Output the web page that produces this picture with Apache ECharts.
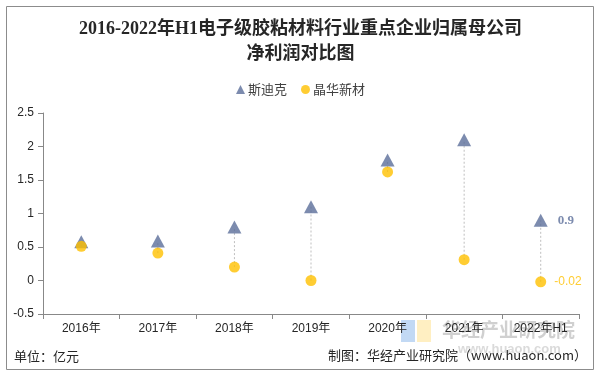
<!DOCTYPE html>
<html>
<head>
<meta charset="utf-8">
<script src="https://cdn.jsdelivr.net/npm/echarts@6/dist/echarts.min.js"></script>
<style>
html,body{margin:0;padding:0;background:#fff;}
#main{width:601px;height:376px;}
</style>
</head>
<body>
<div id="main"></div>
<script>
// 年份
var years = ['2016年', '2017年', '2018年', '2019年', '2020年', '2021年', '2022年H1'];
// 斯迪克 归母净利润(亿元)
var sidike = [0.58, 0.59, 0.8, 1.1, 1.8, 2.1, 0.9];
// 晶华新材 归母净利润(亿元)
var jinghua = [0.51, 0.41, 0.2, 0.0, 1.62, 0.31, -0.02];

var blue = '#5B6E9A';
var gold = '#FFC000';

var dom = document.getElementById('main');
var myChart = echarts.init(dom);

// 高低连线数据 [类目, 低, 高]
var hiLo = [];
for (var i = 0; i < years.length; i++) {
    hiLo.push([i, Math.min(sidike[i], jinghua[i]), Math.max(sidike[i], jinghua[i])]);
}

var option = {
    animation: false,
    title: {
        text: '2016-2022年H1电子级胶粘材料行业重点企业归属母公司\n净利润对比图',
        left: 'center',
        top: 12,
        textStyle: {
            fontFamily: '"Liberation Serif", "Noto Sans CJK SC", serif',
            fontSize: 18,
            fontWeight: 'bold',
            color: '#262626',
            lineHeight: 25
        }
    },
    legend: {
        top: 78,
        left: 'center',
        itemWidth: 9,
        itemHeight: 9,
        itemGap: 14,
        textStyle: {
            fontFamily: '"Noto Sans CJK SC", sans-serif',
            fontSize: 13,
            color: '#404040',
            padding: [0, 0, 0, -2]
        },
        data: [
            {name: '斯迪克', icon: 'triangle'},
            {name: '晶华新材', icon: 'circle'}
        ]
    },
    grid: {
        left: 43,
        right: 22,
        top: 113,
        bottom: 62
    },
    xAxis: {
        type: 'category',
        data: years,
        boundaryGap: true,
        axisLine: {onZero: false, lineStyle: {color: '#888'}},
        axisTick: {show: true, length: 5, lineStyle: {color: '#888'}},
        axisLabel: {
            color: '#262626',
            fontFamily: '"Liberation Sans", "Noto Sans CJK SC", sans-serif',
            fontSize: 12,
            margin: 9,
            interval: 0
        },
        splitLine: {show: false}
    },
    yAxis: {
        type: 'value',
        min: -0.5,
        max: 2.5,
        interval: 0.5,
        axisLine: {show: true, lineStyle: {color: '#888'}},
        axisTick: {show: true, length: 5, inside: false, lineStyle: {color: '#888'}},
        axisLabel: {
            color: '#262626',
            fontFamily: '"Liberation Sans", sans-serif',
            fontSize: 12,
            margin: 9
        },
        splitLine: {show: false}
    },
    graphic: [
        {
            type: 'rect',
            shape: {x: 6.5, y: 6.5, width: 587, height: 363},
            style: {fill: 'none', stroke: '#8c8c8c', lineWidth: 1},
            silent: true
        },
        {
            type: 'text',
            left: 14,
            top: 350,
            style: {
                text: '单位：亿元',
                fill: '#262626',
                font: '13px "Noto Sans CJK SC", sans-serif'
            }
        },
        {
            type: 'text',
            right: 14,
            top: 349,
            style: {
                text: '制图：华经产业研究院（www.huaon.com）',
                fill: '#262626',
                font: '13px "Noto Sans CJK SC", sans-serif'
            }
        },
        {
            type: 'rect',
            shape: {x: 401, y: 320, width: 14, height: 22},
            style: {fill: 'rgba(120,170,230,0.45)'},
            silent: true
        },
        {
            type: 'rect',
            shape: {x: 417, y: 320, width: 14, height: 22},
            style: {fill: 'rgba(255,220,120,0.45)'},
            silent: true
        },
        {
            type: 'text',
            left: 442,
            top: 320,
            style: {
                text: '华经产业研究院',
                fill: 'rgba(150,150,150,0.45)',
                font: 'bold 19px "Noto Sans CJK SC", sans-serif'
            }
        },
        {
            type: 'text',
            left: 458,
            top: 343,
            style: {
                text: 'www.huaon.com',
                fill: 'rgba(150,150,150,0.35)',
                font: 'bold 13px "Liberation Sans", sans-serif'
            }
        }
    ],
    series: [
        {
            name: '连线',
            type: 'custom',
            silent: true,
            z: 1,
            renderItem: function (params, api) {
                var p1 = api.coord([api.value(0), api.value(1)]);
                var p2 = api.coord([api.value(0), api.value(2)]);
                return {
                    type: 'line',
                    shape: {x1: p1[0], y1: p1[1], x2: p2[0], y2: p2[1]},
                    style: {stroke: '#bfbfbf', lineWidth: 1, lineDash: [2, 2]}
                };
            },
            encode: {x: 0, y: [1, 2]},
            data: hiLo
        },
        {
            name: '斯迪克',
            type: 'scatter',
            symbol: 'triangle',
            symbolSize: [14, 13],
            z: 2,
            itemStyle: {color: blue},
            data: sidike,
            label: {
                show: true,
                position: 'right',
                distance: 10,
                fontFamily: '"Liberation Serif", serif',
                fontWeight: 'bold',
                fontSize: 13,
                color: blue,
                formatter: function (p) {
                    return p.dataIndex === years.length - 1 ? p.value : '';
                }
            }
        },
        {
            name: '晶华新材',
            type: 'scatter',
            symbol: 'circle',
            symbolSize: 11,
            z: 3,
            itemStyle: {color: gold},
            data: jinghua,
            label: {
                show: true,
                position: 'right',
                distance: 8,
                fontFamily: '"Liberation Sans", sans-serif',
                fontSize: 12,
                color: gold,
                formatter: function (p) {
                    return p.dataIndex === years.length - 1 ? p.value : '';
                }
            }
        }
    ]
};

myChart.setOption(option);
</script>
</body>
</html>
